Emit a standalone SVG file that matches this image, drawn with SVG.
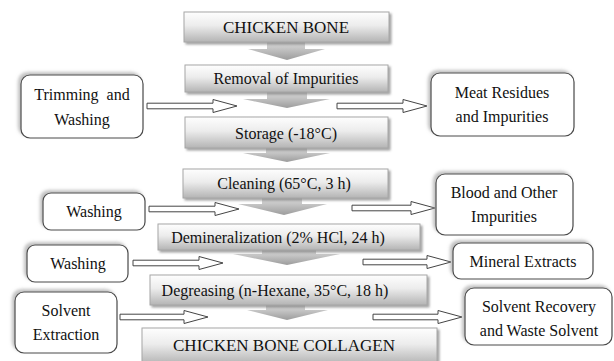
<svg xmlns="http://www.w3.org/2000/svg" width="614" height="361" viewBox="0 0 614 361">
<defs>
<linearGradient id="gBox" x1="0" y1="0" x2="0" y2="1">
<stop offset="0" stop-color="#fefefe"/>
<stop offset="0.45" stop-color="#ececec"/>
<stop offset="1" stop-color="#b4b4b4"/>
</linearGradient>
<linearGradient id="gArr" x1="0" y1="0" x2="0" y2="1">
<stop offset="0" stop-color="#dcdcdc"/>
<stop offset="1" stop-color="#9c9c9c"/>
</linearGradient>
<filter id="shMain" x="-10%" y="-20%" width="120%" height="150%">
<feDropShadow dx="2" dy="2" stdDeviation="1.3" flood-color="#666" flood-opacity="0.6"/>
</filter>
<filter id="shSide" x="-10%" y="-20%" width="120%" height="140%">
<feDropShadow dx="-2.5" dy="-2.5" stdDeviation="1.5" flood-color="#999" flood-opacity="0.6"/>
</filter>
<filter id="txtSh" x="-5%" y="-20%" width="110%" height="140%">
<feDropShadow dx="0.8" dy="0.8" stdDeviation="0.4" flood-color="#aaa" flood-opacity="0.7"/>
</filter>
</defs>
<style>
.main{fill:url(#gBox);stroke:#a6a6a6;stroke-width:1;filter:url(#shMain)}
.side{fill:#fff;stroke:#4a4a4a;stroke-width:1.2;filter:url(#shSide)}
.blk{fill:url(#gArr);stroke:none}
.open{fill:#fff;stroke:#444;stroke-width:1}
text{font-family:"Liberation Serif","Times New Roman",serif;font-size:16px;fill:#111;text-anchor:middle}
.t17{font-size:17px}
</style>
<rect width="614" height="361" fill="#fff"/>

<g id="connectors">
<path class="blk" d="M267,42 L305,42 L305,49 L325,49 L287,60 L248,49 L267,49 Z"/>
<path class="blk" d="M267,92 L307,92 L307,99 L330,99 L287,108 L243,99 L267,99 Z"/>
<path class="blk" d="M266,148 L307,148 L307,153 L330,153 L287,162 L243,153 L266,153 Z"/>
<path class="blk" d="M262,198 L302,198 L302,204 L327,204 L284,215 L238,204 L262,204 Z"/>
<path class="blk" d="M262,250 L316,250 L316,254 L340,254 L287,265 L233,254 L262,254 Z"/>
<path class="blk" d="M266,305 L305,305 L305,310 L328,310 L287,320 L247,310 L266,310 Z"/>
<path class="open" d="M147,103.2 L213,103.2 L213,99.5 L237,106 L213,112.5 L213,108.8 L147,108.8 Z"/>
<path class="open" d="M337,103.2 L403,103.2 L403,99.5 L427,106 L403,112.5 L403,108.8 L337,108.8 Z"/>
<path class="open" d="M149,206.2 L215,206.2 L215,202.5 L239,209 L215,215.5 L215,211.8 L149,211.8 Z"/>
<path class="open" d="M352,205.2 L411,205.2 L411,201.5 L435,208 L411,214.5 L411,210.8 L352,210.8 Z"/>
<path class="open" d="M133,260.2 L199,260.2 L199,256.5 L223,263 L199,269.5 L199,265.8 L133,265.8 Z"/>
<path class="open" d="M363,259.2 L427,259.2 L427,255.5 L451,262 L427,268.5 L427,264.8 L363,264.8 Z"/>
<path class="open" d="M120,314.2 L184,314.2 L184,310.5 L208,317 L184,323.5 L184,319.8 L120,319.8 Z"/>
<path class="open" d="M373,314.2 L438,314.2 L438,310.5 L462,317 L438,323.5 L438,319.8 L373,319.8 Z"/>
</g>

<g id="chicken-bone">
<rect class="main" x="184" y="12" width="205" height="30"/>
<text class="t17" x="286" y="33">CHICKEN BONE</text>
</g>
<g id="removal">
<rect class="main" x="185" y="65" width="203" height="27"/>
<text x="286" y="84">Removal of Impurities</text>
</g>
<g id="storage">
<rect class="main" x="185" y="117" width="203" height="31"/>
<text x="286" y="138.5">Storage (-18°C)</text>
</g>
<g id="cleaning">
<rect class="main" x="183" y="169" width="205" height="29"/>
<text x="284" y="189">Cleaning (65°C, 3 h)</text>
</g>
<g id="demineralization">
<rect class="main" x="158" y="224" width="262" height="26"/>
<text x="278" y="242.5">Demineralization (2% HCl, 24 h)</text>
</g>
<g id="degreasing">
<rect class="main" x="150" y="275" width="277" height="30"/>
<text x="275" y="295.5">Degreasing (n-Hexane, 35°C, 18 h)</text>
</g>
<g id="collagen">
<rect class="main" x="142" y="328" width="295" height="36"/>
<text class="t17" x="284" y="351">CHICKEN BONE COLLAGEN</text>
</g>

<g id="trimming">
<rect class="side" x="21" y="75" width="122" height="63" rx="9"/>
<text x="82" y="100" word-spacing="4">Trimming and</text>
<text x="82" y="124.5">Washing</text>
</g>
<g id="meat-residues">
<rect class="side" x="431" y="73" width="143" height="63" rx="9"/>
<text x="502" y="97.5">Meat Residues</text>
<text x="502" y="122">and Impurities</text>
</g>
<g id="washing-1">
<rect class="side" x="43" y="193" width="102" height="37" rx="8"/>
<text x="94" y="217">Washing</text>
</g>
<g id="blood">
<rect class="side" x="436" y="174" width="137" height="61" rx="9"/>
<text x="504" y="198">Blood and Other</text>
<text x="504" y="222">Impurities</text>
</g>
<g id="washing-2">
<rect class="side" x="27" y="245" width="101" height="37" rx="8"/>
<text x="78" y="269">Washing</text>
</g>
<g id="mineral">
<rect class="side" x="453" y="243" width="140" height="36" rx="8"/>
<text x="523" y="266.5">Mineral Extracts</text>
</g>
<g id="solvent-extraction">
<rect class="side" x="15" y="292" width="102" height="61" rx="9"/>
<text x="66" y="316">Solvent</text>
<text x="66" y="340">Extraction</text>
</g>
<g id="solvent-recovery">
<rect class="side" x="465" y="288" width="147" height="57" rx="9"/>
<text x="539" y="312">Solvent Recovery</text>
<text x="539" y="336">and Waste Solvent</text>
</g>
</svg>
